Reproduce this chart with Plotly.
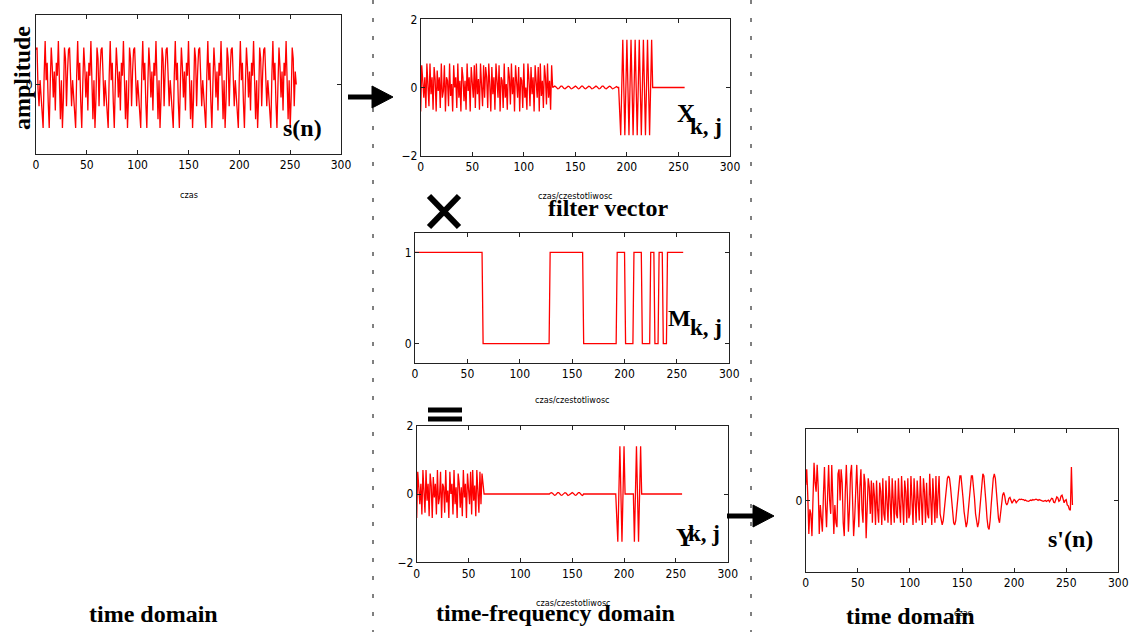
import plotly.graph_objects as go

W, H = 1129, 632

# ---------------- data ----------------
x_ticks = [0, 50, 100, 150, 200, 250, 300]

# s(n): input signal, one value per sample n = 0..256
s_n = [
    0.8, 0.85, -0.1, -0.5, 0.1, -0.3, -0.6, -1.0, 0.2, 1.0, 0.1, 0.5, -0.4, -1.0, 0.0, 0.85,
    0.4, -0.3, 0.3, -0.6, 0.5, 0.2, 1.0, -0.2, -0.8, 0.1, -1.0, -0.3, 0.85, 0.6, -0.5, 0.3,
    0.8, 0.85, -0.1, -0.5, 0.1, -0.3, -0.6, -1.0, 0.2, 1.0, 0.1, 0.5, -0.4, -1.0, 0.0, 0.85,
    0.4, -0.3, 0.3, -0.6, 0.5, 0.2, 1.0, -0.2, -0.8, 0.1, -1.0, -0.3, 0.85, 0.6, -0.5, 0.3,
    0.8, 0.85, -0.1, -0.5, 0.1, -0.3, -0.6, -1.0, 0.2, 1.0, 0.1, 0.5, -0.4, -1.0, 0.0, 0.85,
    0.4, -0.3, 0.3, -0.6, 0.5, 0.2, 1.0, -0.2, -0.8, 0.1, -1.0, -0.3, 0.85, 0.6, -0.5, 0.3,
    0.8, 0.85, -0.1, -0.5, 0.1, -0.3, -0.6, -1.0, 0.2, 1.0, 0.1, 0.5, -0.4, -1.0, 0.0, 0.85,
    0.4, -0.3, 0.3, -0.6, 0.5, 0.2, 1.0, -0.2, -0.8, 0.1, -1.0, -0.3, 0.85, 0.6, -0.5, 0.3,
    0.8, 0.85, -0.1, -0.5, 0.1, -0.3, -0.6, -1.0, 0.2, 1.0, 0.1, 0.5, -0.4, -1.0, 0.0, 0.85,
    0.4, -0.3, 0.3, -0.6, 0.5, 0.2, 1.0, -0.2, -0.8, 0.1, -1.0, -0.3, 0.85, 0.6, -0.5, 0.3,
    0.8, 0.85, -0.1, -0.5, 0.1, -0.3, -0.6, -1.0, 0.2, 1.0, 0.1, 0.5, -0.4, -1.0, 0.0, 0.85,
    0.4, -0.3, 0.3, -0.6, 0.5, 0.2, 1.0, -0.2, -0.8, 0.1, -1.0, -0.3, 0.85, 0.6, -0.5, 0.3,
    0.8, 0.85, -0.1, -0.5, 0.1, -0.3, -0.6, -1.0, 0.2, 1.0, 0.1, 0.5, -0.4, -1.0, 0.0, 0.85,
    0.4, -0.3, 0.3, -0.6, 0.5, 0.2, 1.0, -0.2, -0.8, 0.1, -1.0, -0.3, 0.85, 0.6, -0.5, 0.3,
    0.8, 0.85, -0.1, -0.5, 0.1, -0.3, -0.6, -1.0, 0.2, 1.0, 0.1, 0.5, -0.4, -1.0, 0.0, 0.85,
    0.4, -0.3, 0.3, -0.6, 0.5, 0.2, 1.0, -0.2, -0.8, 0.1, -1.0, -0.3, 0.85, 0.6, -0.5, 0.3,
    0.0,
]

# X_{k,j}: time-frequency coefficients (samples 0..256)
x_band_a = [  # samples 0..63
    -0.7, 0.65, 0.2, -0.3, 0.3, -0.6, 0.7, 0.1, -0.55, 0.7, -0.2, 0.3, -0.65, 0.6, 0.25, -0.7,
    0.5, -0.1, 0.3, -0.6, 0.7, -0.3, -0.1, 0.65, -0.7, 0.3, 0.2, -0.55, 0.7, -0.25, 0.1, -0.7,
    0.65, 0.0, 0.3, -0.6, 0.7, -0.3, 0.2, -0.7, 0.6, 0.3, -0.4, 0.2, -0.65, 0.7, -0.1, 0.3,
    -0.7, 0.6, 0.1, -0.3, 0.65, -0.6, 0.7, -0.2, 0.25, -0.65, 0.7, 0.2, -0.55, 0.65, -0.3, 0.6,
]
x_band_b = [  # samples 64..127
    0.3, -0.6, 0.7, 0.1, -0.7, 0.6, -0.2, 0.3, -0.65, 0.7, 0.0, -0.3, 0.65, -0.7, 0.3, 0.2,
    -0.6, 0.7, -0.3, 0.1, -0.65, 0.6, 0.3, -0.5, 0.7, -0.2, 0.3, -0.7, 0.65, 0.1, -0.3, 0.6,
    -0.7, 0.3, 0.2, -0.6, 0.7, -0.3, 0.0, -0.65, 0.7, 0.25, -0.55, 0.6, -0.2, 0.3, -0.7, 0.65,
    0.1, -0.3, 0.6, -0.7, 0.7, -0.25, 0.2, -0.6, 0.65, 0.3, -0.5, 0.7, -0.3, 0.2, -0.65, 0.65,
]
x_band_c = [  # samples 128..191
    0.0, 0.03, 0.04, 0.02, -0.02, -0.04, -0.03, 0.01, 0.04, 0.04, 0.0, -0.03, -0.04, -0.02, 0.02, 0.04,
    0.03, -0.01, -0.04, -0.03, 0.0, 0.03, 0.04, 0.02, -0.02, -0.04, -0.03, 0.01, 0.04, 0.04, 0.0, -0.03,
    -0.04, -0.02, 0.02, 0.04, 0.03, -0.01, -0.04, -0.03, 0.0, 0.03, 0.04, 0.02, -0.02, -0.04, -0.03, 0.01,
    0.04, 0.04, 0.0, -0.03, -0.04, -0.02, 0.02, 0.04, 0.03, -0.01, -0.04, -0.03, 0.0, 0.03, 0.03, 0.0,
]
x_band_d = [  # samples 192..256
    0.0, -0.7, -1.4, 0.0, 1.4, 0.0, -1.4, 0.0, 1.4, 0.0, -1.4, 0.0, 1.4, 0.0, -1.4, 0.0,
    1.4, 0.0, -1.4, 0.0, 1.4, 0.0, -1.4, 0.0, 1.4, 0.0, -1.4, 0.0, 1.4, 0.0, -1.4, 0.0,
    1.4, 0.0, 0.0, 0.0, 0.0, 0.0, 0.0, 0.0, 0.0, 0.0, 0.0, 0.0, 0.0, 0.0, 0.0, 0.0,
    0.0, 0.0, 0.0, 0.0, 0.0, 0.0, 0.0, 0.0, 0.0, 0.0, 0.0, 0.0, 0.0, 0.0, 0.0, 0.0,
    0.0,
]
X_kj = x_band_a + x_band_b + x_band_c + x_band_d

# M_{k,j}: binary filter mask, as runs of (value, number of samples)
mask_run_values = [1, 0, 1, 0, 1, 0, 1, 0, 1, 0, 1, 0, 1]
mask_run_lengths = [65, 64, 32, 32, 8, 8, 8, 8, 4, 4, 4, 4, 16]
M_kj = []
for v, L in zip(mask_run_values, mask_run_lengths):
    M_kj += [v] * L

# Y_{k,j} = X_{k,j} x M_{k,j}
Y_kj = [a * b for a, b in zip(X_kj, M_kj)]

# s'(n): reconstructed signal
s_rec = [
    # 0..59
    0.35, 0.7, 0.1, -0.75, -0.2, -0.3, -0.8, 0.2, 0.85, 0.4, 0.2, 0.8, 0.3, -0.75, -0.1, -0.4,
    -0.7, 0.1, 0.75, -0.1, -0.6, 0.1, 0.8, 0.0, -0.3, 0.8, 0.2, -0.75, -0.1, -0.5, -0.6, 0.6,
    0.7, 0.0, 0.7, 0.4, -0.5, -0.8, 0.2, 0.8, 0.1, -0.7, -0.2, 0.6, 0.8, -0.3, -0.8, -0.4,
    0.3, 0.8, 0.1, -0.6, 0.3, 0.7, -0.2, -0.5, 0.6, 0.4, -0.85, -0.2,
    # 60..129
    0.5, 0.3, -0.3, 0.45, -0.5, 0.4, 0.1, -0.55, 0.45, -0.2, -0.5, 0.4, 0.2, -0.55, 0.5, -0.3,
    -0.45, 0.45, 0.0, -0.5, 0.55, -0.1, -0.55, 0.5, 0.1, -0.5, 0.45, -0.3, -0.4, 0.5, -0.1, -0.5,
    0.55, 0.0, -0.55, 0.45, 0.2, -0.5, 0.5, -0.4, -0.3, 0.55, -0.1, -0.55, 0.5, 0.1, -0.5, 0.45,
    -0.2, -0.45, 0.55, 0.0, -0.55, 0.5, 0.2, -0.5, 0.4, -0.3, -0.4, 0.6, -0.2, -0.55, 0.5, 0.0,
    -0.5, 0.55, -0.4, 0.1, 0.55, -0.3,
    # 130..187
    -0.45, -0.55, -0.45, -0.2, 0.1, 0.35, 0.5, 0.55, 0.5, 0.3, 0.0, -0.3, -0.5, -0.55, -0.45, -0.2,
    0.1, 0.4, 0.55, 0.55, 0.35, 0.05, -0.25, -0.5, -0.6, -0.5, -0.25, 0.1, 0.4, 0.55, 0.55, 0.35,
    0.05, -0.3, -0.5, -0.6, -0.5, -0.2, 0.15, 0.45, 0.6, 0.55, 0.3, -0.05, -0.4, -0.6, -0.65, -0.45,
    -0.1, 0.25, 0.5, 0.6, 0.5, 0.2, -0.15, -0.4, -0.5, -0.3,
    # 188..256
    0.0, 0.12, 0.18, 0.1, -0.05, -0.1, -0.05, 0.05, 0.07, 0.0, -0.06, -0.02, 0.02, 0.0, -0.05, -0.02,
    0.02, 0.03, 0.02, 0.03, 0.02, 0.02, 0.0, 0.01, -0.01, -0.02, -0.02, 0.0, 0.01, 0.0, 0.02, 0.01,
    0.02, 0.03, 0.02, 0.0, 0.02, 0.01, 0.0, 0.0, -0.02, -0.01, 0.0, -0.02, 0.0, 0.01, -0.03, 0.02,
    0.05, 0.04, -0.04, -0.05, 0.03, 0.08, 0.06, -0.02, 0.0, 0.1, 0.12, 0.05, -0.05, 0.0, 0.02, -0.1,
    -0.12, -0.2, -0.22, 0.75, -0.1,
]


# ---------------- helpers ----------------
def fx(px):
    return px / W


def fy(py):
    return 1 - py / H


RED = "#ff0000"
NARROW = "Liberation Sans Narrow, DejaVu Sans Condensed, Arial Narrow, Liberation Sans, sans-serif"
TICKFONT = dict(family=NARROW, size=12, color="black")
SERIF = "Liberation Serif, Times New Roman, serif"

fig = go.Figure()

panels = [
    # (x values, y values, box px (l, r, t, b), y range, y ticks)
    (list(range(len(s_n))), s_n, (36, 341, 15, 154), [-1.6, 1.6], [0]),
    (list(range(len(X_kj))), X_kj, (420.7, 730, 19.3, 155.7), [-2, 2], [-2, 0, 2]),
    (list(range(len(M_kj))), M_kj, (415, 729.3, 233.3, 362.7), [-0.21, 1.21], [0, 1]),
    (list(range(len(Y_kj))), Y_kj, (416.7, 727.7, 425.7, 562.3), [-2, 2], [-2, 0, 2]),
    (list(range(len(s_rec))), s_rec, (805.7, 1118.3, 429.3, 571.7), [-1.6, 1.6], [0]),
]

layout_axes = {}
for i, (xs, ys, (l, r, t, b), yr, yt) in enumerate(panels, start=1):
    xa = "x" if i == 1 else f"x{i}"
    ya = "y" if i == 1 else f"y{i}"
    fig.add_trace(go.Scatter(x=xs, y=ys, mode="lines", xaxis=xa, yaxis=ya,
                             line=dict(color=RED, width=1.3), showlegend=False,
                             hoverinfo="skip"))
    common = dict(showgrid=False, zeroline=False, showline=True, linecolor="#222",
                  linewidth=1, mirror="ticks", ticks="inside", ticklen=4,
                  tickcolor="#222", tickfont=TICKFONT, automargin=False)
    layout_axes["xaxis" if i == 1 else f"xaxis{i}"] = dict(
        domain=[fx(l), fx(r)], range=[0, 300], tickvals=x_ticks,
        anchor=ya, **common)
    layout_axes["yaxis" if i == 1 else f"yaxis{i}"] = dict(
        domain=[fy(b), fy(t)], range=yr, tickvals=yt,
        anchor=xa, **common)

fig.update_layout(**layout_axes)

annotations = []


def text(px, py, s, size, family=SERIF, bold=True, angle=0, xanchor="center"):
    annotations.append(dict(
        x=fx(px), y=fy(py), xref="paper", yref="paper", showarrow=False,
        text=f"<b>{s}</b>" if bold else s, textangle=angle,
        xanchor=xanchor, yanchor="middle",
        font=dict(family=family, size=size, color="black")))


# axis titles
text(189, 195, "czas", 9, family=NARROW, bold=False)
text(575, 196, "czas/czestotliwosc", 9, family=NARROW, bold=False)
text(572, 400, "czas/czestotliwosc", 9, family=NARROW, bold=False)
text(573, 603, "czas/czestotliwosc", 9, family=NARROW, bold=False)
text(963, 613, "czas", 9, family=NARROW, bold=False)

# labels
text(22, 78, "amplitude", 24, angle=-90)
text(302, 128, "s(n)", 24)
text(686, 113, "X", 25)
text(706, 127, "k, j", 23)
text(679, 318, "M", 24)
text(706, 327, "k, j", 23)
text(685, 537, "Y", 25)
text(704, 533, "k, j", 23)
text(1070, 539, "s'(n)", 24)
text(608, 208, "filter vector", 24)
text(153, 614, "time domain", 24)
text(555, 613, "time-frequency domain", 24)
text(910, 616, "time domain", 24)

fig.update_layout(annotations=annotations)

shapes = []


def line(x0, y0, x1, y1, w, dash=None):
    d = dict(type="line", xref="paper", yref="paper",
             x0=fx(x0), y0=fy(y0), x1=fx(x1), y1=fy(y1),
             line=dict(color="black", width=w))
    if dash:
        d["line"]["dash"] = dash
    shapes.append(d)


def arrow(x0, x1, y):
    line(x0, y, x1 - 18, y, 5)
    shapes.append(dict(type="path", xref="paper", yref="paper",
                       path=f"M {fx(x1 - 21)} {fy(y - 11)} L {fx(x1)} {fy(y)} L {fx(x1 - 21)} {fy(y + 11)} Z",
                       fillcolor="black", line=dict(color="black", width=1)))


# dash-dot separators
line(373, 0, 373, 632, 1, dash="4px,14px")
line(751, 0, 751, 632, 1, dash="4px,14px")
# arrows
arrow(348, 393, 97)
arrow(727, 774, 516)
# multiplication cross
line(429, 196, 459, 227, 6)
line(429, 227, 459, 196, 6)
# equals sign
line(428, 410, 462, 410, 5)
line(428, 419, 462, 419, 5)

fig.update_layout(template="none", shapes=shapes, width=W, height=H,
                  margin=dict(l=0, r=0, t=0, b=0, pad=0, autoexpand=False),
                  paper_bgcolor="white", plot_bgcolor="white", showlegend=False)

fig.write_html(
    "out.html",
    config={"displayModeBar": False},
    post_script="document.body.style.margin='0';document.body.style.overflow='hidden';",
)
